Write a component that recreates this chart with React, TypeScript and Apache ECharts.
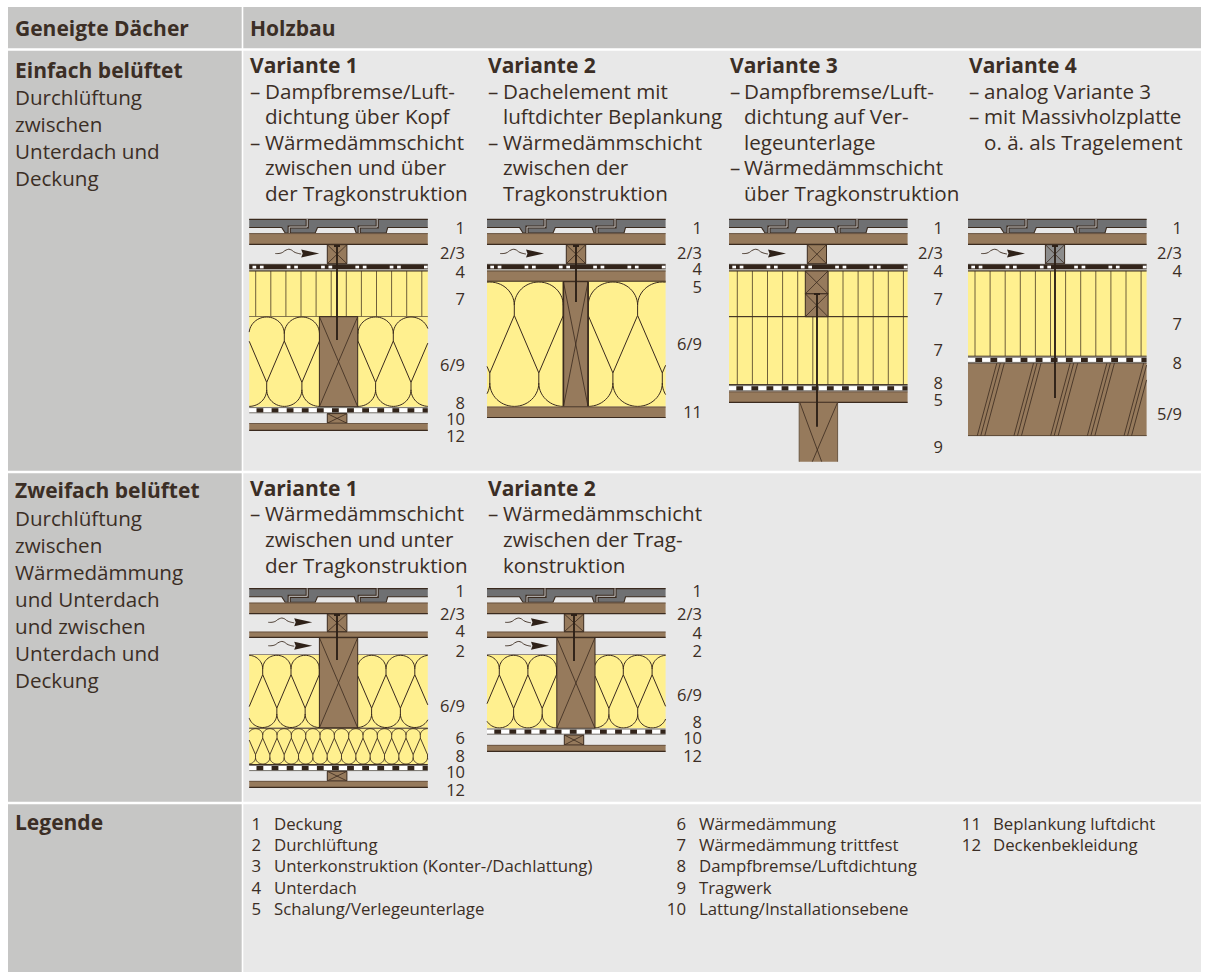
import React, { useEffect, useRef } from "react";
import * as echarts from "echarts";

const FONT = '"Open Sans","Noto Sans",sans-serif';
const INK = "#3b2e25";
const GREY_BAND = "#c6c6c5";
const PANEL = "#e8e8e8";
const WOOD = "#967a5c";
const YELLOW = "#fff08f";
const TILE = "#6f7072";
const EDGE = "#3a2a1e";
const BATTEN_GREY = "#8c8c8c";
const BODY = 20.6;
const HEAD = 21;

// ---------- text content ----------
const headerLeft = "Geneigte Dächer";
const headerRight = "Holzbau";
const rowOneTitle = "Einfach belüftet";
const rowOneLines = ["Durchlüftung", "zwischen", "Unterdach und", "Deckung"];
const rowTwoTitle = "Zweifach belüftet";
const rowTwoLines = ["Durchlüftung", "zwischen", "Wärmedämmung", "und Unterdach", "und zwischen", "Unterdach und", "Deckung"];
const legendTitle = "Legende";
const variantTitles = ["Variante 1", "Variante 2", "Variante 3", "Variante 4"];

const r1v1 = ["–|Dampfbremse/Luft-", "|dichtung über Kopf", "–|Wärmedämmschicht", "|zwischen und über", "|der Tragkonstruktion"];
const r1v2 = ["–|Dachelement mit", "|luftdichter Beplankung", "–|Wärmedämmschicht", "|zwischen der", "|Tragkonstruktion"];
const r1v3 = ["–|Dampfbremse/Luft-", "|dichtung auf Ver-", "|legeunterlage", "–|Wärmedämmschicht", "|über Tragkonstruktion"];
const r1v4 = ["–|analog Variante 3", "–|mit Massivholzplatte", "|o. ä. als Tragelement"];
const r2v1 = ["–|Wärmedämmschicht", "|zwischen und unter", "|der Tragkonstruktion"];
const r2v2 = ["–|Wärmedämmschicht", "|zwischen der Trag-", "|konstruktion"];

const legendOne = ["1|Deckung", "2|Durchlüftung", "3|Unterkonstruktion (Konter-/Dachlattung)", "4|Unterdach", "5|Schalung/Verlegeunterlage"];
const legendTwo = ["6|Wärmedämmung", "7|Wärmedämmung trittfest", "8|Dampfbremse/Luftdichtung", "9|Tragwerk", "10|Lattung/Installationsebene"];
const legendThree = ["11|Beplankung luftdicht", "12|Deckenbekleidung"];

const tagsR1V1 = ["1", "2/3", "4", "7", "6/9", "8", "10", "12"];
const tagsR1V2 = ["1", "2/3", "4", "5", "6/9", "11"];
const tagsR1V3 = ["1", "2/3", "4", "7", "7", "8", "5", "9"];
const tagsR1V4 = ["1", "2/3", "4", "7", "8", "5/9"];
const tagsR2V1 = ["1", "2/3", "4", "2", "6/9", "6", "8", "10", "12"];
const tagsR2V2 = ["1", "2/3", "4", "2", "6/9", "8", "10", "12"];

// ---------- element helpers ----------
const els: any[] = [];
let woolId = 0;
const rect = (x: number, y: number, w: number, h: number, fill: string) =>
  els.push({ type: "rect", shape: { x, y, width: w, height: h }, style: { fill } });
const line = (x1: number, y1: number, x2: number, y2: number, stroke: string, lineWidth = 1) =>
  els.push({ type: "line", shape: { x1, y1, x2, y2 }, style: { stroke, lineWidth, fill: "none" } });
const polygon = (points: number[][], fill: string) => els.push({ type: "polygon", shape: { points }, style: { fill } });
const polyline = (points: number[][], stroke: string, lineWidth = 1, smooth = 0) =>
  els.push({ type: "polyline", shape: { points, smooth }, style: { stroke, lineWidth, fill: "none" } });
const text = (t: string, x: number, y: number, size: number, weight: string | number = "normal", align = "left", lineHeight?: number) =>
  els.push({
    type: "text",
    style: { text: t, x, y, fill: INK, fontFamily: FONT, fontSize: size, fontWeight: weight, align, verticalAlign: "middle", textAlign: align, textVerticalAlign: "middle", lineHeight },
  });

const WIDTH = 178.6;

function tiles(x0: number, y0: number) {
  const profile = [[178.6, 8.5], [176, 8.5], [138.5, 8.5], [137, 14], [107, 14], [105, 8.5], [68.3, 8.5], [66, 14], [36, 14], [32.5, 8.5], [0, 8.5]];
  const abs = profile.map(([a, b]) => [x0 + a, y0 + b]);
  polygon([[x0, y0], [x0 + WIDTH, y0], ...abs], TILE);
  polyline(abs, EDGE, 1.1);
  line(x0, y0 + 0.3, x0 + WIDTH, y0 + 0.3, EDGE, 1.2);
  [40, 110].forEach((o) => {
    const z = [[x0 + o, y0 + 14], [x0 + o, y0 + 8], [x0 + o + 18, y0 + 8], [x0 + o + 18, y0]];
    polyline(z, EDGE, 3.2);
    polyline(z, "#c9c9c9", 1);
  });
}
function board(x0: number, y: number, h: number, w = WIDTH) {
  rect(x0, y, w, h, WOOD);
  line(x0, y + 0.3, x0 + w, y + 0.3, "#5d4a38", 0.8);
  line(x0, y + h - 0.4, x0 + w, y + h - 0.4, EDGE, 1.2);
}
function arrow(x: number, y: number) {
  polyline(
    [[x, y], [x + 6, y - 0.5], [x + 11, y - 3.5], [x + 15, y - 4], [x + 20, y - 1], [x + 26, y + 0.5]],
    "#4a3b30",
    1,
    0.5
  );
  polygon([[x + 26, y - 4], [x + 44, y], [x + 26, y + 4], [x + 27.5, y]], "#2e2118");
}
function block(x: number, y: number, w: number, h: number, fill = WOOD) {
  rect(x, y, w, h, fill);
  line(x, y, x + w, y + h, EDGE, 0.8);
  line(x + w, y, x, y + h, EDGE, 0.8);
  els.push({ type: "rect", shape: { x, y, width: w, height: h }, style: { fill: "none", stroke: EDGE, lineWidth: 1 } });
}
function screw(x: number, y1: number, y2: number) {
  line(x, y1, x, y2, "#2e2118", 1.9);
  rect(x - 3, y1, 6, 2, "#2e2118");
}
function membraneTop(x0: number, y: number) {
  line(x0, y - 0.1, x0 + WIDTH, y - 0.1, "#8d8d8b", 0.8);
  rect(x0, y, WIDTH, 5, "#32241a");
  for (let o = 3.3; o < WIDTH; o += 34.3) {
    rect(x0 + o, y + 1.4, 3.7, 2.7, "#ffffff");
    if (o + 7.4 + 3.7 < WIDTH) rect(x0 + o + 7.4, y + 1.4, 3.7, 2.7, "#ffffff");
  }
  line(x0, y + 5.9, x0 + WIDTH, y + 5.9, "#8d8a7c", 1);
}
function membraneVapour(x0: number, y: number) {
  rect(x0, y + 1, WIDTH, 4.4, "#ffffff");
  line(x0, y + 0.6, x0 + WIDTH, y + 0.6, "#77736d", 1);
  line(x0, y + 5.8, x0 + WIDTH, y + 5.8, "#77736d", 1);
  for (let o = 7.3; o < WIDTH; o += 15.1) rect(x0 + o, y + 1.2, Math.min(6.8, WIDTH - o), 4.2, "#32241a");
}
function rigid(x0: number, y1: number, y2: number, first: number) {
  rect(x0, y1, WIDTH, y2 - y1, YELLOW);
  for (let o = first; o < WIDTH; o += 15.1) line(x0 + o, y1, x0 + o, y2, "#4a3a25", 0.8);
  line(x0, y1, x0 + WIDTH, y1, EDGE, 1);
  line(x0, y2, x0 + WIDTH, y2, EDGE, 1);
}

function clipTo(seg: number[][], xmin: number, xmax: number): string {
  let d = "";
  let open = false;
  for (let i = 0; i < seg.length - 1; i++) {
    let [ax, ay] = seg[i];
    let [bx, by] = seg[i + 1];
    if ((ax < xmin && bx < xmin) || (ax > xmax && bx > xmax)) { open = false; continue; }
    const at = (x: number) => ay + ((by - ay) * (x - ax)) / (bx - ax || 1);
    const [sx, sy] = ax < xmin ? [xmin, at(xmin)] : ax > xmax ? [xmax, at(xmax)] : [ax, ay];
    const [ex, ey] = bx < xmin ? [xmin, at(xmin)] : bx > xmax ? [xmax, at(xmax)] : [bx, by];
    if (!open) d += `M${sx.toFixed(2)} ${sy.toFixed(2)}`;
    d += `L${ex.toFixed(2)} ${ey.toFixed(2)}`;
    open = ax >= xmin && ax <= xmax && bx >= xmin && bx <= xmax;
  }
  return d;
}
function arch(x: number, y: number, p: number, peak: number): number[][] {
  const out: number[][] = [];
  for (let i = 0; i <= 28; i++) {
    const a = (Math.PI * i) / 28;
    out.push([x + p / 2 - (p / 2) * Math.cos(a), y + (peak - y) * Math.sin(a)]);
  }
  return out;
}
// pinch = an x where the upper bulbs meet; bulbs repeat every p
function wool(xmin: number, xmax: number, y1: number, y2: number, pinch: number, p: number, lw = 1) {
  rect(xmin, y1, xmax - xmin, y2 - y1, YELLOW);
  const h = y2 - y1;
  const t1 = y1 + 0.19 * h, t2 = y1 + 0.27 * h, b1 = y1 + 0.73 * h, b2 = y1 + 0.81 * h;
  let d = "";
  let x = pinch;
  while (x > xmin - p) x -= p;
  for (; x < xmax + p; x += p) {
    d += clipTo(arch(x, t1, p, y1 + 0.3), xmin, xmax);
    d += clipTo([[x, t1], [x, t2]], xmin, xmax);
    d += clipTo([[x, t2], [x + p / 2, b1]], xmin, xmax);
    d += clipTo([[x, t2], [x - p / 2, b1]], xmin, xmax);
    const xb = x + p / 2;
    d += clipTo([[xb, b1], [xb, b2]], xmin, xmax);
    d += clipTo(arch(xb, b2, p, y2 - 0.3), xmin, xmax);
  }
  const name = "wool" + woolId++;
  echarts.graphic.registerShape(name, echarts.graphic.extendPath(d, {}) as any);
  els.push({ type: name, x: 0, y: 0, style: { fill: "none", stroke: EDGE, lineWidth: lw } });
}
function tagList(labels: string[], ys: number[], right: number) {
  labels.forEach((t, i) => text(t, right, ys[i], 16.5, "normal", "right", 12));
}
function variant(title: string, lines: string[], x: number, titleY: number, firstY: number, pitch: number, indent = 15) {
  text(title, x, titleY, HEAD, "bold");
  lines.forEach((l, i) => {
    const [dash, body] = l.split("|");
    if (dash) text(dash, x, firstY + i * pitch, BODY);
    text(body, x + indent, firstY + i * pitch, BODY);
  });
}
function legendColumn(items: string[], numRight: number, textX: number) {
  const ys = [823, 844, 865, 887, 908];
  items.forEach((l, i) => {
    const [n, t] = l.split("|");
    text(n, numRight, ys[i], 16.8, "normal", "right");
    text(t, textX, ys[i], 16.8);
  });
}

function buildScene() {
  els.length = 0;
  woolId = 0;
  // panels
  rect(8, 7, 233.7, 41.3, GREY_BAND);
  rect(243.3, 7, 957.7, 41.3, GREY_BAND);
  rect(8, 50.7, 233.7, 420, GREY_BAND);
  rect(243.3, 50.7, 957.7, 420, PANEL);
  rect(8, 473.3, 233.7, 328.4, GREY_BAND);
  rect(243.3, 473.3, 957.7, 328.4, PANEL);
  rect(8, 804.3, 233.7, 168, GREY_BAND);
  rect(243.3, 804.3, 957.7, 168, PANEL);

  // left column and headings
  text(headerLeft, 15, 28, HEAD, "bold");
  text(headerRight, 250, 28, HEAD, "bold");
  text(rowOneTitle, 15, 70, HEAD, "bold");
  rowOneLines.forEach((l, i) => text(l, 15, 97 + i * 27, BODY));
  text(rowTwoTitle, 15, 490, HEAD, "bold");
  rowTwoLines.forEach((l, i) => text(l, 15, 518 + i * 27, BODY));
  text(legendTitle, 15, 822, HEAD, "bold");

  variant(variantTitles[0], r1v1, 250, 65, 91, 25.4);
  variant(variantTitles[1], r1v2, 488, 65, 91, 25.4);
  variant(variantTitles[2], r1v3, 730, 65, 91, 25.4, 14);
  variant(variantTitles[3], r1v4, 969, 65, 91, 25.4, 15);
  variant(variantTitles[0], r2v1, 250, 488, 513, 25.8);
  variant(variantTitles[1], r2v2, 488, 488, 513, 25.8);

  legendColumn(legendOne, 261, 274);
  legendColumn(legendTwo, 686, 699);
  legendColumn(legendThree, 981, 993);

  // ---- Row 1, Variante 1
  let x = 249.2;
  tiles(x, 219);
  board(x, 233.3, 11.4);
  arrow(x + 26, 253.5);
  membraneTop(x, 264.3);
  rigid(x, 271, 316.7, 6.5);
  wool(x, 319.5, 316.7, 406.7, 284.3, 35.2);
  wool(357.7, x + WIDTH, 316.7, 406.7, 393.3, 35.4);
  block(319.4, 316.7, 38.3, 90);
  membraneVapour(x, 407);
  block(327.3, 244.7, 19.6, 19);
  block(327.3, 413.6, 19.6, 9.6);
  board(x, 423.2, 7.6);
  screw(337, 245, 340);
  tagList(tagsR1V1, [227, 252, 271, 298, 364.5, 402, 418, 435], 465);

  // ---- Row 1, Variante 2
  x = 487;
  tiles(x, 219);
  board(x, 233.3, 11.4);
  arrow(x + 13, 253.5);
  membraneTop(x, 264.3);
  board(x, 270.8, 11);
  wool(x, 563.4, 281.7, 406.7, 514.3, 49);
  wool(588.1, x + WIDTH, 281.7, 406.7, 637.6, 49.4);
  block(563.4, 281.7, 24.7, 125);
  line(563.4, 281.7, 563.4, 406.7, EDGE, 1.6);
  line(588.1, 281.7, 588.1, 406.7, EDGE, 1.6);
  board(x, 406.7, 11.2);
  block(566.3, 244.7, 19.4, 19);
  screw(576, 245, 302);
  tagList(tagsR1V2, [227, 252, 268, 286, 343, 411], 702);

  // ---- Row 1, Variante 3
  x = 729;
  tiles(x, 219);
  board(x, 233.3, 11.4);
  arrow(x + 13, 253.5);
  membraneTop(x, 264.3);
  rigid(x, 271, 316.7, 8.3);
  rigid(x, 316.7, 384.6, 8.3);
  block(805.3, 271, 22.7, 22.8);
  block(805.3, 293.8, 22.7, 22.9);
  membraneVapour(x, 385);
  board(x, 391.6, 11.1);
  rect(799.2, 402.7, 38.4, 59, WOOD);
  line(799.2, 402.7, 799.2, 461.7, "#6a5743", 1);
  line(837.6, 402.7, 837.6, 461.7, "#6a5743", 1);
  line(800, 403, 821.7, 461.7, EDGE, 0.8);
  line(837.3, 403, 812.3, 461.7, EDGE, 0.8);
  block(807.3, 244.7, 19.2, 19);
  screw(817, 293, 426.7);
  tagList(tagsR1V3, [227, 252, 270, 298.5, 349, 382.5, 399.5, 446], 943);

  // ---- Row 1, Variante 4
  x = 968;
  tiles(x, 219);
  board(x, 233.3, 11.4);
  arrow(x + 13, 253.5);
  membraneTop(x, 264.3);
  rigid(x, 271, 356.2, 7);
  membraneVapour(x, 356.6);
  rect(x, 363.2, WIDTH, 72.8, WOOD);
  line(x, 363.4, x + WIDTH, 363.4, "#5d4a38", 0.8);
  line(x, 435.6, x + WIDTH, 435.6, "#5d4a38", 1);
  for (let g = 9.3; g < WIDTH; g += 36.7) {
    [0, 3.5, 7.5].forEach((o) => {
      const xb = x + g + o;
      const xt = xb + 19.5;
      const over = xt - (x + WIDTH);
      if (over > 0) line(xb, 435.6, x + WIDTH, 435.6 - (72.4 * (19.5 - over)) / 19.5, "#3a2a1e", 0.8);
      else line(xb, 435.6, xt, 363.2, "#3a2a1e", 0.8);
    });
  }
  block(1045.4, 244.7, 19.2, 19, BATTEN_GREY);
  screw(1055, 245, 398);
  tagList(tagsR1V4, [227, 252, 270, 323, 362, 413], 1182);

  // ---- Row 2, Variante 1
  x = 249.2;
  tiles(x, 588.3);
  board(x, 602.7, 11.3);
  arrow(x + 19, 622.3);
  arrow(x + 19, 645.7);
  board(x, 631.7, 6);
  line(x, 655, x + WIDTH, 655, EDGE, 1);
  wool(x, 319.5, 655, 727.8, 262.7, 28.3);
  wool(357.7, x + WIDTH, 655, 727.8, 386, 28.8);
  block(319.4, 637.7, 38.3, 90.2);
  block(327.3, 614, 19.6, 17.7);
  wool(x, x + WIDTH, 728.4, 764.3, 262.7, 14.33, 0.9);
  line(x, 728.2, x + WIDTH, 728.2, EDGE, 1);
  line(x, 764.5, x + WIDTH, 764.5, EDGE, 1);
  membraneVapour(x, 764.8);
  block(327.3, 771.3, 19.6, 9.6);
  board(x, 781, 6.8);
  screw(337, 614, 660);
  tagList(tagsR2V1, [590, 613, 630, 650, 705, 737.7, 755.7, 771.7, 789], 465);

  // ---- Row 2, Variante 2
  x = 487;
  tiles(x, 588.3);
  board(x, 602.7, 11.3);
  arrow(x + 18, 622.3);
  arrow(x + 18, 645.7);
  board(x, 631.7, 6);
  line(x, 655, x + WIDTH, 655, EDGE, 1);
  wool(x, 556.8, 655, 728.2, 499.3, 28.6);
  wool(595, x + WIDTH, 655, 728.2, 623.3, 28.8);
  block(556.8, 637.7, 38.2, 90.6);
  block(564.3, 614, 19.4, 17.7);
  membraneVapour(x, 728.4);
  block(564.3, 735, 19.4, 10);
  board(x, 745, 6.8);
  screw(574, 614, 661);
  tagList(tagsR2V2, [590, 613, 632, 650, 694, 721.7, 737.7, 755], 702);
  return els.slice();
}

export default function App() {
  const ref = useRef<HTMLDivElement>(null);
  useEffect(() => {
    const chart = echarts.init(ref.current!, null, { renderer: "svg" });
    chart.setOption({ animation: false, backgroundColor: "#ffffff", graphic: { elements: buildScene() } });
    return () => chart.dispose();
  }, []);
  return <div ref={ref} style={{ position: "absolute", left: 0, top: 0, width: 1206, height: 972 }} />;
}
